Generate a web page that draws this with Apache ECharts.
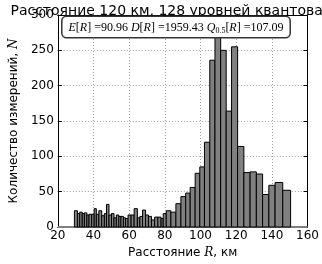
<!DOCTYPE html>
<html><head><meta charset="utf-8">
<script src="https://cdn.jsdelivr.net/npm/echarts@6/dist/echarts.min.js"></script>
<style>html,body{margin:0;padding:0;background:#fff}#c{width:322px;height:264px}</style>
</head><body><div id="c"></div>
<script>
// Bin edges (km) and counts
const binEdges = [29.3, 31.0, 32.3, 33.7, 34.9, 36.3, 37.5, 39.0, 40.4, 41.6, 43.0, 44.6, 46.1, 47.3, 48.7, 50.1, 51.5, 52.8, 54.2, 55.4, 56.8, 58.0, 59.4, 61.1, 62.8, 64.6, 66.0, 67.5, 69.2, 70.8, 72.5, 74.3, 76.1, 77.9, 79.1, 80.8,
  83.4, 86.2, 89.0, 91.7, 94.2, 97.0, 99.6, 102.2, 105.2, 108.1, 111.3, 114.4, 117.4, 120.8, 124.3, 127.8, 131.3, 134.8, 138.3, 141.8, 146.1, 150.5];
const counts = [23, 19, 21, 19, 20, 17, 18, 18, 26, 18, 23, 16, 19, 32, 17, 19, 13, 17, 15, 15, 13, 12, 17, 17, 26, 13, 15, 24, 17, 15, 10, 14, 14, 12, 19,
  23, 21, 33, 43, 48, 56, 76, 85, 120, 236, 271, 250, 164, 255, 114, 77, 78, 75, 46, 59, 63, 52];
const xTicks = [20, 40, 60, 80, 100, 120, 140, 160];
const yTicks = [0, 50, 100, 150, 200, 250, 300];
const titleText = 'Расстояние 120 км, 128 уровней квантования';
const statE = '90.96', statD = '1959.43', statQ = '107.09';

const barData = counts.map((c, i) => [binEdges[i], binEdges[i + 1], c]);
const chart = echarts.init(document.getElementById('c'), null, {renderer: 'canvas'});
const tickFont = {fontFamily: 'DejaVu Sans', fontSize: 12, color: '#000'};
const axisCommon = {
  axisLine: {show: true, onZero: false, lineStyle: {color: '#000', width: 1}},
  axisTick: {show: true, inside: true, length: 4, lineStyle: {color: '#000'}},
};
const rich = {t: {fontFamily: 'DejaVu Sans', fontSize: 12, color: '#000'},
  i: {fontFamily: 'DejaVu Serif', fontStyle: 'italic', fontSize: 12, color: '#000'}};
chart.setOption({
  animation: false,
  title: {text: titleText, left: 175, top: -1, textAlign: 'center',
    textStyle: {fontFamily: 'DejaVu Sans', fontSize: 14, fontWeight: 'normal', color: '#000'}},
  grid: {left: 42, right: 12, top: 15, bottom: 27, containLabel: false},
  xAxis: [{
    type: 'value', min: xTicks[0], max: xTicks[xTicks.length - 1], interval: 20,
    ...axisCommon,
    axisLabel: {...tickFont, margin: 3},
    splitLine: {show: true, lineStyle: {color: '#a0a0a0', type: [1, 2], width: 1}},
    name: '{t|Расстояние }{i|R}{t|, км}', nameLocation: 'middle', nameGap: 20,
    nameTextStyle: {rich: rich}
  }, {
    type: 'value', position: 'top', min: xTicks[0], max: xTicks[xTicks.length - 1], interval: 20,
    ...axisCommon, axisLabel: {show: false}, splitLine: {show: false}
  }],
  yAxis: [{
    type: 'value', min: yTicks[0], max: yTicks[yTicks.length - 1], interval: 50,
    ...axisCommon,
    axisLabel: {...tickFont, margin: 4},
    splitLine: {show: true, lineStyle: {color: '#a0a0a0', type: [1, 2], width: 1}},
    name: '{t|Количество измерений, }{i|N}', nameLocation: 'middle', nameGap: 33, nameRotate: 90,
    nameTextStyle: {rich: rich}
  }, {
    type: 'value', position: 'right', min: yTicks[0], max: yTicks[yTicks.length - 1], interval: 50,
    ...axisCommon, axisLabel: {show: false}, splitLine: {show: false}
  }],
  series: [{
    type: 'line', data: [[20, 0], [160, 0]], symbol: 'none', silent: true,
    lineStyle: {color: '#808080', width: 2}, z: 1
  }, {
    type: 'custom', data: barData, encode: {x: [0, 1], y: 2}, z: 2,
    renderItem: function (params, api) {
      const p0 = api.coord([api.value(0), api.value(2)]);
      const p1 = api.coord([api.value(1), 0]);
      return {type: 'rect', shape: {x: p0[0], y: p0[1], width: p1[0] - p0[0], height: p1[1] - p0[1]},
        style: {fill: '#808080', stroke: '#000', lineWidth: 1}};
    }
  }],
  graphic: [{
    type: 'text', x: 176, y: 17, z: 100,
    style: {
      text: '{i|E}{n|[}{i|R}{n|] =' + statE + ' }{i|D}{n|[}{i|R}{n|] =' + statD + ' }{i|Q}{s|0.5}{n|[}{i|R}{n|] =' + statQ + '}',
      align: 'center',
      rich: {
        i: {fontFamily: 'Liberation Serif', fontStyle: 'italic', fontSize: 12, fill: '#000'},
        n: {fontFamily: 'Liberation Serif', fontSize: 12, fill: '#000'},
        s: {fontFamily: 'Liberation Serif', fontSize: 8, fill: '#000', verticalAlign: 'bottom', padding: [7, 0, 0, 0]}
      },
      backgroundColor: '#fff', borderColor: '#333', borderWidth: 1.5, borderRadius: 4,
      padding: [3, 6, 2, 6]
    }
  }]
});
</script></body></html>
